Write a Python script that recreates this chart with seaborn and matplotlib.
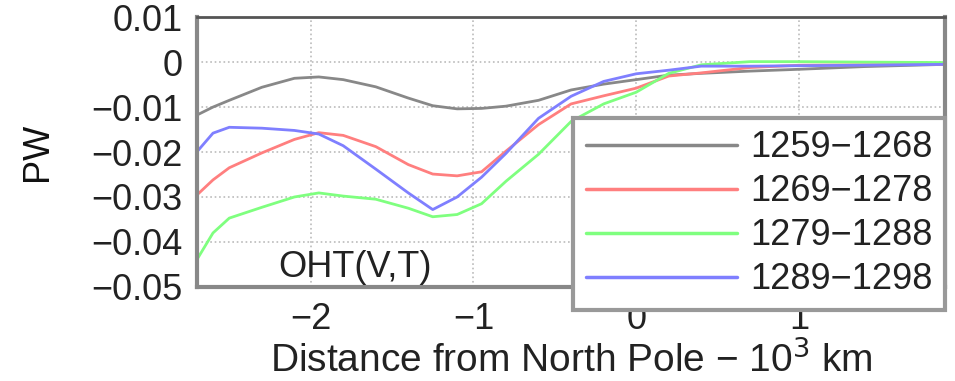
import numpy as np
import pandas as pd
import matplotlib
matplotlib.use("Agg")
import matplotlib.pyplot as plt
import seaborn as sns

# ---------------------------------------
# Data
# ---------------------------------------
distance = [-2.7, -2.6, -2.5, -2.3, -2.1, -1.95, -1.8, -1.6, -1.4, -1.25, -1.1,
            -0.95, -0.8, -0.6, -0.4, -0.2, 0.0, 0.2, 0.4, 0.7, 1.0, 1.4, 1.9]

pw_1259 = [-0.0118, -0.0100, -0.0085, -0.0056, -0.0036, -0.0033, -0.0039, -0.0055,
           -0.0080, -0.0097, -0.0104, -0.0103, -0.0098, -0.0085, -0.0062, -0.0049,
           -0.0039, -0.0029, -0.0025, -0.0020, -0.0016, -0.0010, -0.0005]
pw_1269 = [-0.0296, -0.0262, -0.0235, -0.0202, -0.0172, -0.0157, -0.0163, -0.0188,
           -0.0228, -0.0249, -0.0253, -0.0244, -0.0198, -0.0139, -0.0093, -0.0075,
           -0.0058, -0.0031, -0.0024, -0.0012, -0.0007, -0.0006, -0.0005]
pw_1279 = [-0.0440, -0.0380, -0.0347, -0.0323, -0.0300, -0.0291, -0.0298, -0.0305,
           -0.0325, -0.0344, -0.0339, -0.0315, -0.0265, -0.0205, -0.0132, -0.0093,
           -0.0067, -0.0025, -0.0006, 0.0001, 0.0001, 0.0000, -0.0001]
pw_1289 = [-0.0200, -0.0158, -0.0145, -0.0147, -0.0152, -0.0160, -0.0186, -0.0238,
           -0.0291, -0.0328, -0.0300, -0.0256, -0.0203, -0.0125, -0.0076, -0.0043,
           -0.0026, -0.0018, -0.0009, -0.0009, -0.0008, -0.0007, -0.0005]

periods = ["1259\u22121268", "1269\u22121278", "1279\u22121288", "1289\u22121298"]
colors = ["#888888", "#ff7f7f", "#7fff7f", "#7f7fff"]

frames = []
for name, vals in zip(periods, [pw_1259, pw_1269, pw_1279, pw_1289]):
    frames.append(pd.DataFrame({"Distance": distance, "PW": vals, "Period": name}))
df = pd.concat(frames, ignore_index=True)

# ---------------------------------------
# Plot
# ---------------------------------------
sns.set_style("white")
plt.rcParams["font.family"] = ["Liberation Sans", "DejaVu Sans"]
fs = 26

fig = plt.figure(figsize=(9.55, 3.81), dpi=100)
ax = fig.add_axes([0.206, 0.247, 0.784, 0.708])

sns.lineplot(data=df, x="Distance", y="PW", hue="Period", palette=colors,
             linewidth=2, ax=ax, legend=False)

ax.set_xlim(-2.7, 1.9)
ax.set_ylim(-0.05, 0.01)
ax.set_xticks([-2, -1, 0, 1])
ax.set_yticks([0.01, 0, -0.01, -0.02, -0.03, -0.04, -0.05])
ax.set_yticklabels(["0.01", "0", "\u22120.01", "\u22120.02", "\u22120.03",
                    "\u22120.04", "\u22120.05"])
ax.set_xticklabels(["\u22122", "\u22121", "0", "1"])
ax.tick_params(axis="both", direction="in", length=5, color="#666666",
               labelsize=fs, labelcolor="#222222")
ax.tick_params(axis="x", pad=11)
ax.tick_params(axis="y", pad=10)
ax.grid(True, linestyle=":", color="#bbbbbb", linewidth=1.2)

for side in ["left", "bottom", "right", "top"]:
    ax.spines[side].set_color("#888888")
    ax.spines[side].set_linewidth(3)
ax.spines["top"].set_color("#555555")
ax.spines["top"].set_linewidth(2)

ax.set_xlabel("Distance from North Pole \u2212 10$^3$ km", fontsize=28,
              color="#222222", labelpad=2)
ax.set_ylabel("PW", fontsize=fs, color="#111111", labelpad=26)

ax.text(-2.2, -0.0478, "OHT(V,T)", fontsize=fs, color="#222222",
        ha="left", va="baseline")

handles = [plt.Line2D([], [], color=c, linewidth=2.5) for c in colors]
leg = ax.legend(handles, periods, loc="lower right",
                bbox_to_anchor=(0.9895, 0.186), bbox_transform=fig.transFigure,
                fontsize=fs, frameon=True, fancybox=False, framealpha=1,
                edgecolor="#999999", handlelength=4.2, handletextpad=0.35,
                labelspacing=0.25, borderpad=0.35, borderaxespad=0)
leg.get_frame().set_linewidth(3)
for t in leg.get_texts():
    t.set_color("#222222")

plt.savefig("out.png", dpi=100)
